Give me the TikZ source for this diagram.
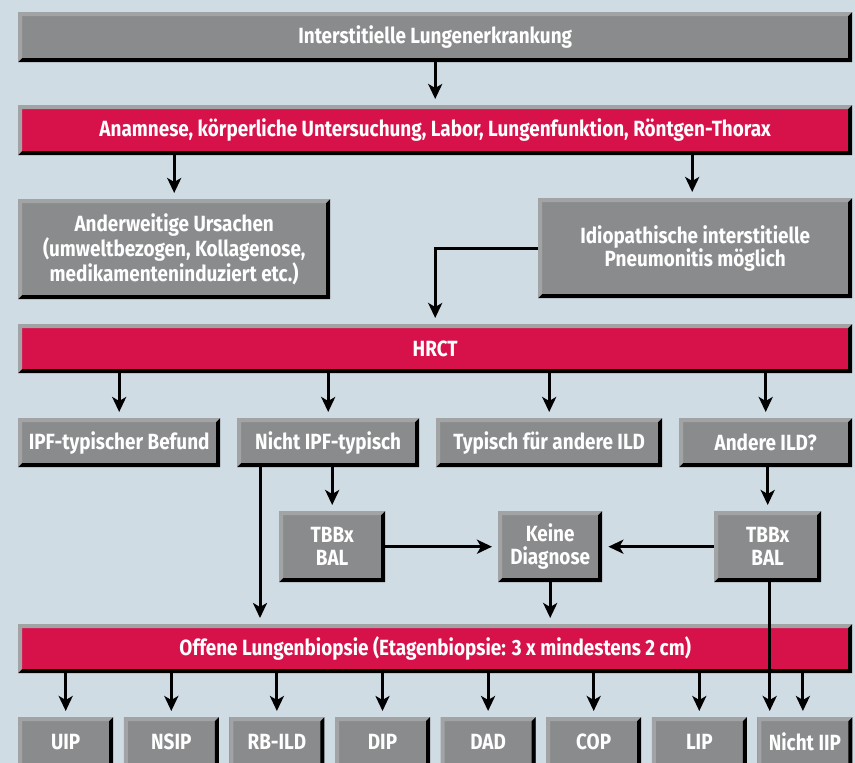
\documentclass[tikz,border=0pt]{standalone}
\usepackage{fontspec}
\setmainfont{Fira Sans}[FakeStretch=0.86]
\usetikzlibrary{positioning, arrows.meta, calc}
\definecolor{bgblue}{HTML}{CFDCE4}
\definecolor{boxgray}{HTML}{8A8B8D}
\definecolor{bevellight}{HTML}{A2A3A5}
\definecolor{boxred}{HTML}{D7124B}
\tikzset{bevel/.style={path picture={
	\coordinate (bnw) at (path picture bounding box.north west);
	\coordinate (bne) at (path picture bounding box.north east);
	\coordinate (bsw) at (path picture bounding box.south west);
	\coordinate (bse) at (path picture bounding box.south east);
	\fill[bevellight] (bnw) -- (bne) -- ([shift={(-4pt,-4pt)}]bne) -- ([shift={(4pt,-4pt)}]bnw)
		-- ([shift={(4pt,4pt)}]bsw) -- (bsw) -- cycle;
	\fill[black] (bse) -- (bne) -- ([shift={(-4pt,-4pt)}]bne) -- ([shift={(-4pt,4pt)}]bse)
		-- ([shift={(4pt,4pt)}]bsw) -- (bsw) -- cycle;
	}}}

\begin{document}
\begin{tikzpicture}[
		x=1pt, y=-1pt,
		box/.style={bevel, draw=none, inner sep=0pt, anchor=north west, align=center, text=white,
			font=\fontsize{22}{23}\selectfont\bfseries},
		graybox/.style={box, fill=boxgray},
		redbox/.style={box, fill=boxred},
		arrow/.style={-{Stealth[length=15pt, width=14pt, inset=4pt]}, line width=3pt, shorten >=6pt}
		]
		\fill[bgblue] (0,0) rectangle (855,763);
		\useasboundingbox (0,0) rectangle (855,763);
		
		% Erste Stufe
		\node[graybox, minimum width=834pt, minimum height=50pt] (top) at (18,12) {Interstitielle Lungenerkrankung};
		\node[redbox, minimum width=834pt, minimum height=50pt] (anam) at (18,105) {Anamnese, körperliche Untersuchung, Labor, Lungenfunktion, Röntgen-Thorax};
		\node[graybox, minimum width=312pt, minimum height=100pt] (ander) at (18,199) {Anderweitige Ursachen\\(umweltbezogen, Kollagenose,\\medikamenteninduziert etc.)};
		\node[graybox, minimum width=314pt, minimum height=100pt] (idio) at (538,198) {Idiopathische interstitielle\\Pneumonitis möglich};
		
		% HRCT
		\node[redbox, minimum width=834pt, minimum height=49pt] (hrct) at (18,324) {HRCT};
		\node[graybox, minimum width=202pt, minimum height=49pt] (ipf) at (18,418) {IPF-typischer Befund};
		\node[graybox, minimum width=182pt, minimum height=49pt] (nicht) at (237,418) {Nicht IPF-typisch};
		\node[graybox, minimum width=226pt, minimum height=49pt] (typ) at (436,418) {Typisch für andere ILD};
		\node[graybox, minimum width=173pt, minimum height=49pt] (andere) at (679,418) {Andere ILD?};
		\node[graybox, minimum width=106pt, minimum height=71pt] (tbbl) at (279,511) {TBBx\\BAL};
		\node[graybox, minimum width=104pt, minimum height=71pt] (keine) at (498,511) {Keine\\Diagnose};
		\node[graybox, minimum width=107pt, minimum height=71pt] (tbbr) at (714,511) {TBBx\\BAL};
		
		% Biopsie
		\node[redbox, minimum width=834pt, minimum height=49pt] (offene) at (18,624) {Offene Lungenbiopsie (Etagenbiopsie: 3 x mindestens 2 cm)};
		\foreach \name/\lab [count=\i from 0] in {uip/UIP, nsip/NSIP, rbild/RB-ILD, dip/DIP, dad/DAD, cop/COP, lip/LIP, niip/Nicht IIP}
			\node[graybox, minimum width=95pt, minimum height=50pt] (\name) at (18+\i*105.6,717) {\lab};
		
		% Pfeile
		\draw[arrow] (top.south) -- (anam.north);
		\draw[arrow] (anam.south -| ander.north) -- (ander.north);
		\draw[arrow] ([xshift=-3pt]anam.south -| idio.north) -- ([xshift=-3pt]idio.north);
		\draw[arrow] (idio.west) -| (hrct.north);
		\foreach \name in {ipf, nicht, typ, andere}
			\draw[arrow] (hrct.south -| \name.north) -- (\name.north);
		\draw[arrow] (nicht.south -| tbbl.north) -- (tbbl.north);
		\draw[arrow] ([xshift=23pt]nicht.south west) -- ([xshift=23pt]nicht.south west |- offene.north);
		\draw[arrow] (andere.south -| tbbr.north) -- (tbbr.north);
		\draw[arrow] (tbbl.east) -- (keine.west);
		\draw[arrow] (tbbr.west) -- (keine.east);
		\draw[arrow] (keine.south) -- (keine.south |- offene.north);
		\foreach \name in {uip, nsip, rbild, dip, dad, cop, lip}
			\draw[arrow] (offene.south -| \name.north) -- (\name.north);
		\draw[arrow] ([xshift=-2pt]offene.south -| niip.north) -- ([xshift=-2pt]niip.north);
		\draw[arrow] ([xshift=2pt]tbbr.south) -- ([xshift=2pt]tbbr.south |- niip.north);
	\end{tikzpicture}
\end{document}
